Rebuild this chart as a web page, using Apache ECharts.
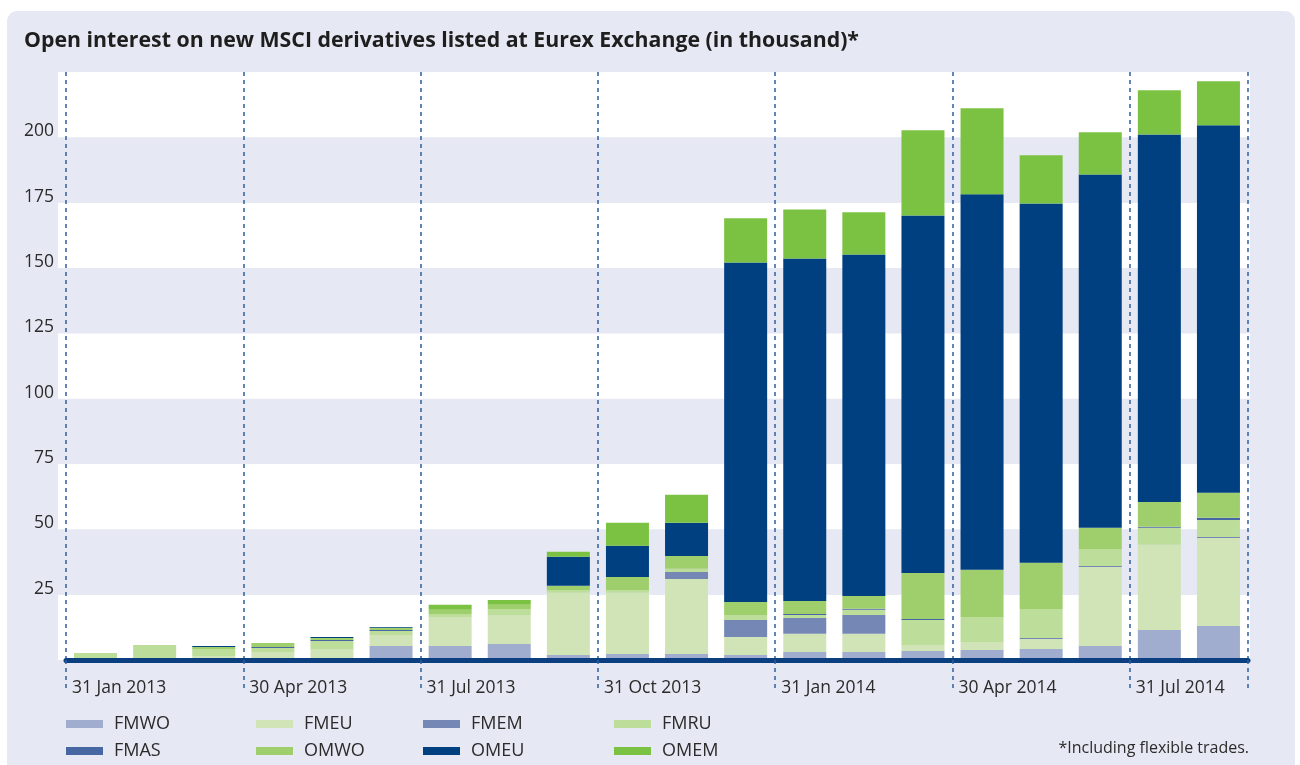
<!DOCTYPE html>
<html>
<head>
<meta charset="utf-8">
<title>Open interest MSCI</title>
<script src="https://cdn.jsdelivr.net/npm/echarts@6/dist/echarts.min.js"></script>
<style>
html,body{margin:0;padding:0;background:#fff;}
#main{width:1300px;height:765px;}
</style>
</head>
<body>
<div id="main"></div>
<script>
// months Jan 2013 - Aug 2014
var months = ['Jan 2013','Feb 2013','Mar 2013','Apr 2013','May 2013','Jun 2013','Jul 2013','Aug 2013','Sep 2013','Oct 2013',
	'Nov 2013','Dec 2013','Jan 2014','Feb 2014','Mar 2014','Apr 2014','May 2014','Jun 2014','Jul 2014','Aug 2014'];
// labels sit on the month boundaries (index = boundary number)
var tickPos = [0,3,6,9,12,15,18];
var tickLabels = ['31 Jan 2013','30 Apr 2013','31 Jul 2013','31 Oct 2013','31 Jan 2014','30 Apr 2014','31 Jul 2014'];

var FMWO = [0,0,0.6,0.4,0.6,5.4,5.4,6.1,1.9,2.3,2.3,1.9,3.1,3.1,3.4,3.8,4.2,5.4,11.5,13.0];
var FMEU = [0,0,0.9,2.7,3.6,4.2,11.1,11.1,23.8,23.4,28.7,6.9,6.9,6.9,2.3,3.1,3.8,30.2,32.6,33.7];
var FMEM = [0,0,0,0,0,0,0,0,0,0,2.7,6.5,6.1,7.2,0,0,0.4,0.4,0,0.4];
var FMRU = [2.7,5.7,2.7,1.5,3.1,1.5,1.1,2.3,1.1,1.1,1.2,1.9,1.1,2.0,9.6,9.6,11.1,6.5,6.5,6.5];
var FMAS = [0,0,0,0.4,0.4,0.4,0,0,0,0,0,0,0.4,0.4,0.4,0,0,0,0.4,0.8];
var OMWO = [0,0,0.8,1.5,0.7,0.8,1.6,1.6,1.6,5.0,4.9,5.0,5.0,4.9,17.6,18.0,17.7,8.1,9.5,9.6];
var OMEU = [0,0,0.4,0,0.4,0.3,0,0,11.1,11.9,12.7,129.9,131.0,130.7,136.8,143.7,137.5,135.2,140.6,140.6];
var OMEM = [0,0,0,0,0,0,1.9,1.9,1.9,8.8,10.7,16.9,18.8,16.1,32.6,32.9,18.4,16.1,16.9,16.9];

var seriesNames = ['FMWO','FMEU','FMEM','FMRU','FMAS','OMWO','OMEU','OMEM'];
var seriesData = [FMWO,FMEU,FMEM,FMRU,FMAS,OMWO,OMEU,OMEM];
var colors = ['#A1ADCE','#D0E4B7','#7487B5','#BDDD9A','#4767A3','#9FCE6C','#003F80','#7CC242'];

var bg = '#E6E8F3';
var txt = '#2b2b2b';
var font = 'Open Sans';

// boundary axis: 21 slots, text only at tickPos
var bounds = [];
var boundLabel = {};
for(var i=0;i<=months.length;i++){ bounds.push('b'+i); }
for(var j=0;j<tickPos.length;j++){ boundLabel[tickPos[j]] = tickLabels[j]; }
function onTick(index){
	return index%3===0 || index===months.length;
}

var series = [];
for(var k=0;k<seriesNames.length;k++){
	series.push({
		name:seriesNames[k],
		type:'bar',
		stack:'oi',
		xAxisIndex:1,
		yAxisIndex:1,
		barWidth:43,
		itemStyle:{color:colors[k]},
		emphasis:{disabled:true},
		data:seriesData[k]
	});
}

// legend: 2 rows x 4 columns, one legend per item
var legendOrder = ['FMWO','FMEU','FMEM','FMRU','FMAS','OMWO','OMEU','OMEM'];
var colX = [61,251,418,609];
var rowY = [710,737];
var legends = legendOrder.map(function(name,idx){
	return {
		left:colX[idx%4],
		top:rowY[Math.floor(idx/4)],
		data:[name],
		icon:'rect',
		itemWidth:37,
		itemHeight:8,
		selectedMode:false,
		textStyle:{fontFamily:font,fontSize:18,color:txt,padding:[0,0,0,6]}
	};
});

var chart = echarts.init(document.getElementById('main'));
chart.setOption({
	animation:false,
	graphic:[
		{type:'rect',z:-10,shape:{x:7,y:11,width:1288,height:770,r:[10,10,0,0]},style:{fill:bg}},
		{type:'text',right:51,top:740,style:{text:'*Including flexible trades.',font:'16px "Open Sans"',fill:txt}}
	],
	title:{
		text:'Open interest on new MSCI derivatives listed at Eurex Exchange (in thousand)*',
		left:19,
		top:25,
		textStyle:{fontFamily:font,fontSize:21.3,fontWeight:'bold',color:'#1e1e1e'}
	},
	legend:legends,
	grid:[
		{left:58,right:50,top:72,bottom:105},
		{left:66,right:52,top:72,bottom:105}
	],
	xAxis:[
		{gridIndex:0,type:'value',show:false},
		{gridIndex:1,type:'category',data:months,show:false,boundaryGap:true},
		{
			gridIndex:1,
			type:'category',
			data:bounds,
			boundaryGap:false,
			position:'bottom',
			z:5,
			axisLine:{show:true,lineStyle:{color:'#0B3F80',width:5}},
			axisTick:{show:true,interval:onTick,length:32,lineStyle:{color:'#2F5F9E',width:1.5,type:[4,4]}},
			splitLine:{show:true,interval:onTick,lineStyle:{color:'#2F5F9E',width:1.5,type:[4,4]}},
			axisLabel:{
				interval:function(index){ return boundLabel[index]!==undefined; },
				formatter:function(v,index){ return boundLabel[index]||''; },
				align:'left',
				padding:[0,0,0,6],
				margin:19,
				fontFamily:font,
				fontSize:17.5,
				color:txt
			}
		}
	],
	yAxis:[
		{
			gridIndex:0,
			type:'value',
			min:0,
			max:225,
			interval:25,
			axisLine:{show:false},
			axisTick:{show:false},
			splitLine:{show:false},
			splitArea:{show:true,areaStyle:{color:['#ffffff',bg]}},
			axisLabel:{
				margin:4,
				verticalAlign:'bottom',
				lineHeight:12,
				fontFamily:font,
				fontSize:17.5,
				color:txt,
				formatter:function(v){ return (v===0||v===225)?'':v; }
			}
		},
		{gridIndex:1,type:'value',min:0,max:225,interval:25,show:false,splitLine:{show:false}}
	],
	series:series
});
</script>
</body>
</html>
